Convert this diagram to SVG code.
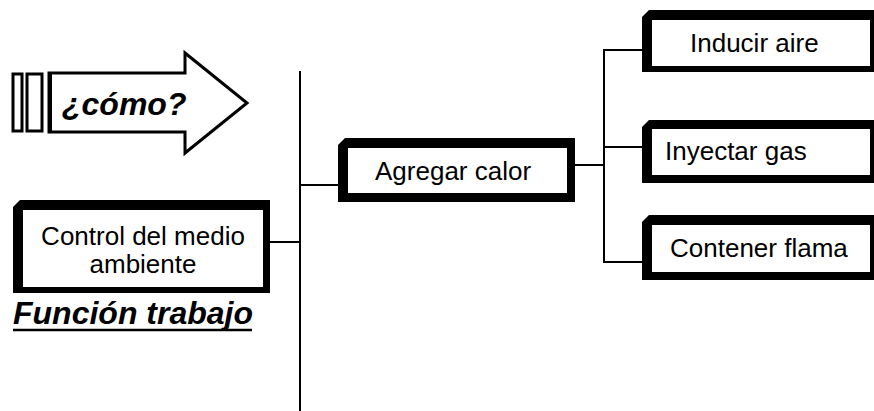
<svg xmlns="http://www.w3.org/2000/svg" width="874" height="411" viewBox="0 0 874 411">
  <style>
    .frame { fill: #000; }
    .face { fill: #fff; }
    .label { font-family: "Liberation Sans", Arial, sans-serif; font-size: 26px; fill: #000; }
    .head { font-family: "Liberation Sans", Arial, sans-serif; font-size: 32px; font-weight: bold; font-style: italic; fill: #000; }
    .wire { stroke: #000; stroke-width: 2; fill: none; }
  </style>

  <!-- "how?" arrow with its two tail bars -->
  <g id="arrow">
    <rect x="13" y="74" width="9" height="57" fill="#fff" stroke="#000" stroke-width="3"/>
    <rect x="27" y="74" width="15" height="57" fill="#fff" stroke="#000" stroke-width="3"/>
    <path d="M49,73 L185,73 L185,53 L247,103 L185,153 L185,132 L49,132 Z" fill="#fff" stroke="#000" stroke-width="3" stroke-linejoin="miter"/>
    <line x1="50" y1="73" x2="50" y2="132" stroke="#000" stroke-width="4"/>
    <text class="head" x="62" y="115">¿cómo?</text>
  </g>

  <!-- connectors -->
  <g id="connectors">
    <line class="wire" x1="300" y1="71" x2="300" y2="411"/>
    <line class="wire" x1="270" y1="242" x2="300" y2="242"/>
    <line class="wire" x1="300" y1="185" x2="338" y2="185"/>
    <line class="wire" x1="575" y1="165" x2="604" y2="165"/>
    <line class="wire" x1="604" y1="49" x2="604" y2="263"/>
    <line class="wire" x1="603" y1="50" x2="642" y2="50"/>
    <line class="wire" x1="603" y1="147" x2="642" y2="147"/>
    <line class="wire" x1="603" y1="262" x2="642" y2="262"/>
  </g>

  <!-- root function -->
  <g id="control">
    <path class="frame" d="M13,207 L20,200 L270,200 L270,293 L13,293 Z"/>
    <rect class="face" x="23" y="210" width="240" height="77"/>
    <text class="label" x="143" y="245" text-anchor="middle">Control del medio</text>
    <text class="label" x="143" y="273" text-anchor="middle">ambiente</text>
  </g>

  <g id="funcion-trabajo">
    <text class="head" x="13" y="324">Función trabajo</text>
    <line x1="13" y1="330" x2="252" y2="330" stroke="#000" stroke-width="2.5"/>
  </g>

  <g id="agregar">
    <path class="frame" d="M338,145 L345,138 L575,138 L575,202 L338,202 Z"/>
    <rect class="face" x="348" y="148" width="219" height="45"/>
    <text class="label" x="375" y="180">Agregar calor</text>
  </g>

  <g id="inducir">
    <path class="frame" d="M642,17 L649,10 L874,10 L874,72 L642,72 Z"/>
    <rect class="face" x="652" y="20" width="218" height="46"/>
    <text class="label" x="690" y="52">Inducir aire</text>
  </g>

  <g id="inyectar">
    <path class="frame" d="M642,127 L649,120 L874,120 L874,183 L642,183 Z"/>
    <rect class="face" x="652" y="129" width="218" height="46"/>
    <text class="label" x="665" y="160">Inyectar gas</text>
  </g>

  <g id="contener">
    <path class="frame" d="M642,222 L649,215 L874,215 L874,280 L642,280 Z"/>
    <rect class="face" x="652" y="225" width="218" height="47"/>
    <text class="label" x="670" y="257">Contener flama</text>
  </g>
</svg>
